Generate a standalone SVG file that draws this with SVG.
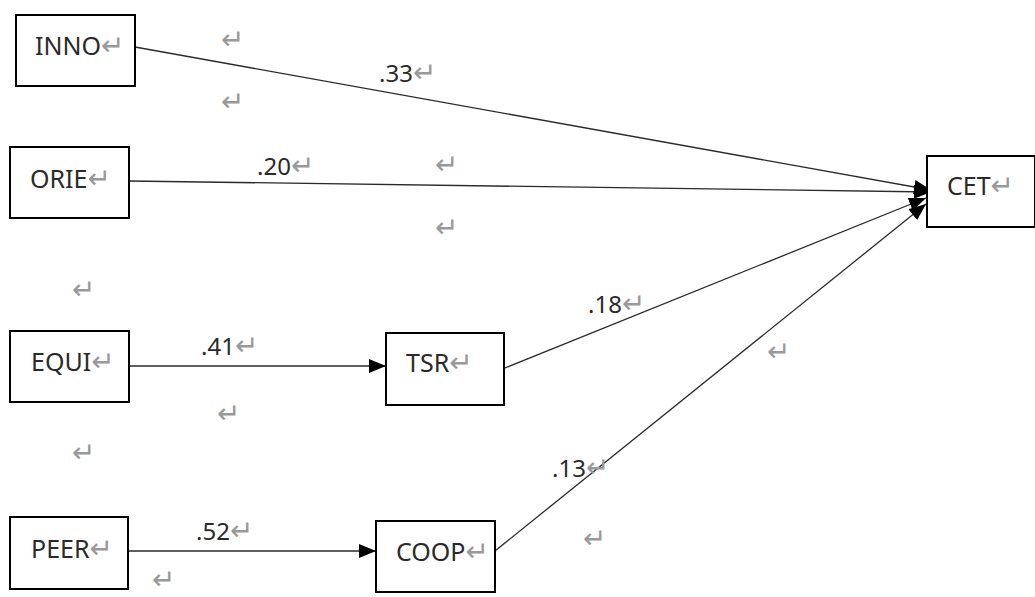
<svg xmlns="http://www.w3.org/2000/svg" width="1035" height="597" viewBox="0 0 1035 597">
<style>
.box{fill:#fff;stroke:#000;stroke-width:2}
.lbl{font-family:"Noto Sans","Liberation Sans",sans-serif;font-size:25px;fill:#2a2a2a}
.coef{font-family:"Noto Sans","Liberation Sans",sans-serif;font-size:24px;fill:#2a2a2a}
.ret{font-family:"DejaVu Sans",sans-serif;font-size:28px;fill:#999}
.conn{stroke:#2a2a2a;stroke-width:1.3;fill:none}
</style>
<defs>
<marker id="arr" markerUnits="userSpaceOnUse" markerWidth="18" markerHeight="14" refX="17" refY="7" orient="auto">
<path d="M0,0 L17,7 L0,14 Z" fill="#000"/>
</marker>
</defs>
<g id="connectors">
<line class="conn" x1="135" y1="47" x2="931" y2="190" marker-end="url(#arr)"/>
<line class="conn" x1="129" y1="181" x2="931" y2="192" marker-end="url(#arr)"/>
<line class="conn" x1="505" y1="368" x2="926" y2="198" marker-end="url(#arr)"/>
<line class="conn" x1="495" y1="551" x2="926" y2="204" marker-end="url(#arr)"/>
<line class="conn" x1="129" y1="366" x2="386" y2="366" marker-end="url(#arr)"/>
<line class="conn" x1="129" y1="551" x2="376" y2="551" marker-end="url(#arr)"/>
</g>
<g id="node-inno"><rect class="box" x="16" y="15" width="119" height="71"/><text class="lbl" x="35" y="55">INNO<tspan class="ret">↵</tspan></text></g>
<g id="node-orie"><rect class="box" x="10" y="147" width="119" height="71"/><text class="lbl" x="30" y="188">ORIE<tspan class="ret">↵</tspan></text></g>
<g id="node-equi"><rect class="box" x="10" y="331" width="119" height="71"/><text class="lbl" x="31" y="371">EQUI<tspan class="ret">↵</tspan></text></g>
<g id="node-peer"><rect class="box" x="10" y="517" width="118" height="72"/><text class="lbl" x="31" y="558">PEER<tspan class="ret">↵</tspan></text></g>
<g id="node-tsr"><rect class="box" x="386" y="333" width="118" height="72"/><text class="lbl" x="406" y="372">TSR<tspan class="ret">↵</tspan></text></g>
<g id="node-coop"><rect class="box" x="376" y="521" width="119" height="71"/><text class="lbl" x="396" y="561">COOP<tspan class="ret">↵</tspan></text></g>
<g id="node-cet"><rect class="box" x="927" y="156" width="108" height="71"/><text class="lbl" x="947" y="195">CET<tspan class="ret">↵</tspan></text></g>
<g id="coefficients">
<text class="coef" x="379" y="82">.33<tspan class="ret">↵</tspan></text>
<text class="coef" x="257" y="175">.20<tspan class="ret">↵</tspan></text>
<text class="coef" x="201" y="355">.41<tspan class="ret">↵</tspan></text>
<text class="coef" x="196" y="540">.52<tspan class="ret">↵</tspan></text>
<text class="coef" x="588" y="313">.18<tspan class="ret">↵</tspan></text>
<text class="coef" x="552" y="477">.13<tspan class="ret">↵</tspan></text>
</g>
<g id="marks">
<text class="ret" x="221" y="49">↵</text>
<text class="ret" x="221" y="111">↵</text>
<text class="ret" x="435" y="174">↵</text>
<text class="ret" x="435" y="237">↵</text>
<text class="ret" x="72" y="299">↵</text>
<text class="ret" x="217" y="423">↵</text>
<text class="ret" x="72" y="462">↵</text>
<text class="ret" x="152" y="589">↵</text>
<text class="ret" x="583" y="548">↵</text>
<text class="ret" x="767" y="361">↵</text>
</g>
</svg>
